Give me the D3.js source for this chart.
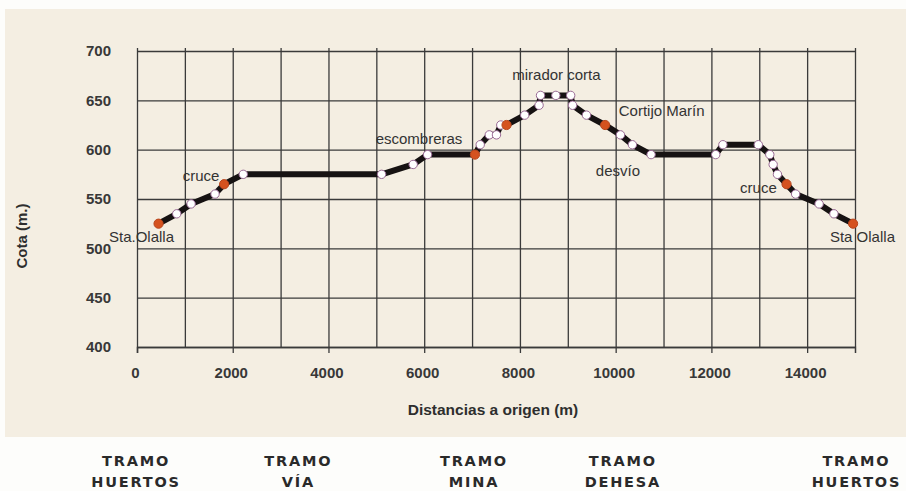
<!DOCTYPE html>
<html>
<head>
<meta charset="utf-8">
<script src="https://cdn.jsdelivr.net/npm/d3@7"></script>
<style>
  body { margin: 0; background: #fdfdfb; }
  svg { display: block; }
  .tick text { font-family: "Liberation Sans", Arial, sans-serif; font-weight: bold; font-size: 15px; fill: #383838; }
</style>
</head>
<body>
<div id="profile"></div>
<script>
// distance from origin (m) and elevation (m) of each point on the route
const dist = [450, 830, 1130, 1630, 1820, 2220, 5110, 5770, 6070, 7060, 7170, 7360, 7510, 7600, 7720,
              8100, 8400, 8430, 8750, 9060, 9100, 9390, 9780, 10100, 10350, 10740, 12090, 12240, 12980,
              13220, 13290, 13380, 13570, 13760, 14250, 14560, 14960];
const elev = [525, 535, 545, 555, 565, 575, 575, 585, 595, 595, 605, 615, 615, 625, 625,
              635, 645, 655, 655, 655, 645, 635, 625, 615, 605, 595, 595, 605, 605,
              595, 585, 575, 565, 555, 545, 535, 525];
// key points (red markers)
const keyPoints = [0, 4, 9, 14, 22, 32, 36];

// place names, located in chart units
const placeNames = ["Sta.Olalla", "cruce", "escombreras", "mirador corta", "Cortijo Marín", "desvío", "cruce", "Sta Olalla"];
const placeDist = [94, 1337, 5891, 8763, 10961, 10048, 12983, 15156];
const placeElev = [506, 568, 605.7, 670.6, 634, 573.3, 556, 506];

// route sections shown under the chart
const tramoNames = ["HUERTOS", "VÍA", "MINA", "DEHESA", "HUERTOS"];
const tramoDist = [-20, 3370, 7040, 10150, 15030];

const yTicks = [400, 450, 500, 550, 600, 650, 700];
const xTicks = d3.range(0, 15001, 1000);

const W = 906, H = 491;
const margin = {top: 51, right: 51, bottom: 144, left: 137},
    width = W - margin.left - margin.right,
    height = H - margin.top - margin.bottom;

const svgRoot = d3.select("#profile")
  .append("svg")
    .attr("width", W)
    .attr("height", H);

// paper background
svgRoot.append("rect")
  .attr("x", 5).attr("y", 9)
  .attr("width", W - 5).attr("height", 428)
  .attr("fill", "#f4eee2");

const svg = svgRoot.append("g")
  .attr("transform", `translate(${margin.left},${margin.top})`);

const x = d3.scaleLinear().domain([0, 15000]).range([0, width]);
const y = d3.scaleLinear().domain([400, 700]).range([height, 0]);

// horizontal grid + y labels
const yAxis = svg.append("g")
  .call(d3.axisLeft(y).tickValues(yTicks).tickSize(-width).tickPadding(26).tickFormat(d3.format("d")));
yAxis.select(".domain").remove();
yAxis.selectAll(".tick line").attr("stroke", "#3a3a3a").attr("stroke-width", 1.3);

// vertical grid
const xGrid = svg.append("g")
  .attr("transform", `translate(0,${height})`)
  .call(d3.axisBottom(x).tickValues(xTicks).tickSize(0).tickFormat(""));
xGrid.select(".domain").remove();
xGrid.selectAll(".tick line")
  .attr("y1", 0).attr("y2", -height - 3)
  .attr("stroke", "#3a3a3a").attr("stroke-width", 1.3);

// bottom axis with labels every 2000
const xAxis = svg.append("g")
  .attr("transform", `translate(0,${height})`)
  .call(d3.axisBottom(x).tickValues(d3.range(0, 15000, 2000)).tickSize(6).tickPadding(14).tickFormat(d3.format("d")));
xAxis.select(".domain").attr("stroke", "#3a3a3a").attr("stroke-width", 1.5);
xAxis.selectAll(".tick line").attr("stroke", "#3a3a3a").attr("stroke-width", 1.3);
xAxis.selectAll(".tick text").attr("dx", "-2");

// axis titles
svg.append("text")
  .attr("x", width / 2 - 3)
  .attr("y", height + 68)
  .attr("text-anchor", "middle")
  .style("font-family", "Liberation Sans, Arial, sans-serif")
  .style("font-weight", "bold")
  .style("font-size", "15.5px")
  .style("fill", "#2e2e2e")
  .text("Distancias a origen (m)");

svgRoot.append("text")
  .attr("transform", "translate(27,236) rotate(-90)")
  .attr("text-anchor", "middle")
  .style("font-family", "Liberation Sans, Arial, sans-serif")
  .style("font-weight", "bold")
  .style("font-size", "15px")
  .style("fill", "#2e2e2e")
  .text("Cota (m.)");

// profile line
const pts = dist.map((d, i) => [d, elev[i]]);
const line = d3.line().x(d => x(d[0])).y(d => y(d[1]));

svg.append("path")
  .datum(pts)
  .attr("d", line)
  .attr("fill", "none")
  .attr("stroke", "#161212")
  .attr("stroke-width", 6)
  .attr("stroke-linejoin", "round");

svg.selectAll("circle.pt")
  .data(pts)
  .join("circle")
    .attr("class", "pt")
    .attr("cx", d => x(d[0]))
    .attr("cy", d => y(d[1]))
    .attr("r", (d, i) => keyPoints.includes(i) ? 4.6 : 4.2)
    .attr("fill", (d, i) => keyPoints.includes(i) ? "#d5521f" : "#ffffff")
    .attr("stroke", (d, i) => keyPoints.includes(i) ? "#b8461e" : "#9a6a95")
    .attr("stroke-width", 1);

// place labels
svg.selectAll("text.place")
  .data(placeNames)
  .join("text")
    .attr("class", "place")
    .attr("x", (d, i) => x(placeDist[i]))
    .attr("y", (d, i) => y(placeElev[i]))
    .attr("text-anchor", "middle")
    .style("font-family", "Liberation Sans, Arial, sans-serif")
    .style("font-size", "15px")
    .style("fill", "#333")
    .text(d => d);

// tramo labels
const tramo = svg.selectAll("g.tramo")
  .data(tramoNames)
  .join("g")
    .attr("class", "tramo")
    .attr("transform", (d, i) => `translate(${x(tramoDist[i])},0)`);

tramo.append("text")
  .attr("y", height + 119)
  .attr("text-anchor", "middle")
  .style("font-family", "DejaVu Sans, sans-serif")
  .style("font-weight", "bold")
  .style("font-size", "14.5px")
  .style("letter-spacing", "1.8px")
  .style("fill", "#2a2a2a")
  .text("TRAMO");

tramo.append("text")
  .attr("y", height + 140)
  .attr("text-anchor", "middle")
  .style("font-family", "DejaVu Sans, sans-serif")
  .style("font-weight", "bold")
  .style("font-size", "14.5px")
  .style("letter-spacing", "1.8px")
  .style("fill", "#2a2a2a")
  .text(d => d);
</script>
</body>
</html>
